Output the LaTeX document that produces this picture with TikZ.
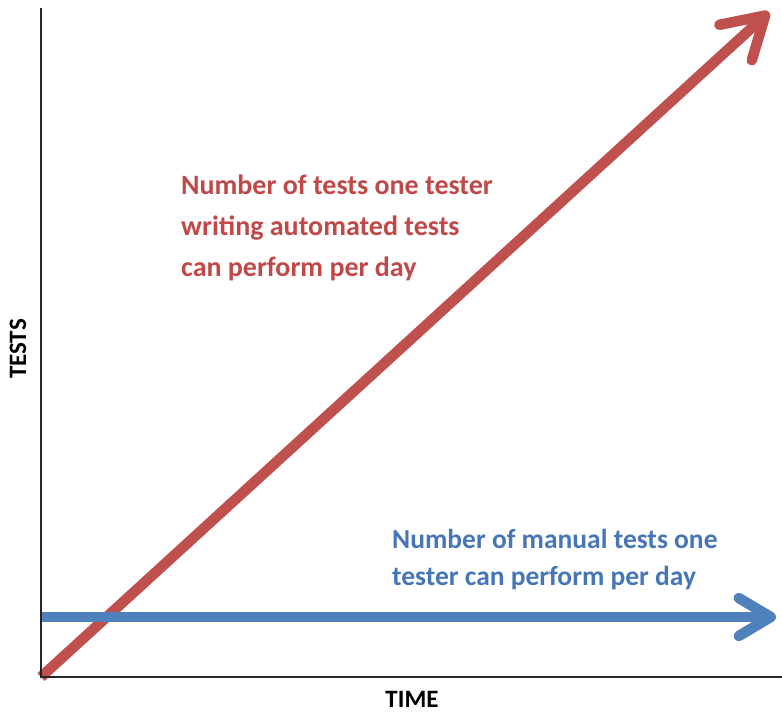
\documentclass[tikz,border=0pt]{standalone}
\usepackage{fontspec}
\setmainfont{Carlito}
\usetikzlibrary{arrows.meta}
\definecolor{ared}{RGB}{192,80,77}
\definecolor{ablue}{RGB}{79,129,189}
\definecolor{tred}{RGB}{192,72,72}
\definecolor{tblue}{RGB}{70,118,182}
\begin{document}
\begin{tikzpicture}[x=1pt,y=-1pt,
  axis/.style={line width=2pt,black!85},
  trend/.style={line width=10.5pt,line cap=butt,line join=round},
  lbl/.style={font=\bfseries\fontsize{28}{41}\selectfont,align=left,inner sep=0pt,anchor=north west},
  axlbl/.style={font=\bfseries\fontsize{25}{30}\selectfont,inner sep=0pt}]
\useasboundingbox (0,0) rectangle (782,713);
\coordinate (top) at (41,8);
\coordinate (origin) at (41,677);
\coordinate (xend) at (782,677);
\coordinate (redtip) at (769,12);
\coordinate (bluestart) at (41,617);
\coordinate (bluetip) at (776,617);
\draw[trend,ared,-{Straight Barb[length=40pt,width=48pt,line cap=round,line join=round]}] (origin) -- (redtip);
\draw[trend,ablue,-{Straight Barb[length=32pt,width=38pt,line cap=round,line join=round]}] (bluestart) -- (bluetip);
\draw[axis] (top) -- (origin) -- (xend);
\node[lbl,text=tred] (redlabel) at (181,175) {Number of tests one tester\\writing automated tests\\can perform per day};
\node[lbl,text=tblue,font=\bfseries\fontsize{27.5}{37}\selectfont] (bluelabel) at (392,529) {Number of manual tests one\\tester can perform per day};
\node[axlbl,rotate=90] (ylabel) at (18,349) {TESTS};
\node[axlbl] (xlabel) at (412,699) {TIME};
\end{tikzpicture}
\end{document}
